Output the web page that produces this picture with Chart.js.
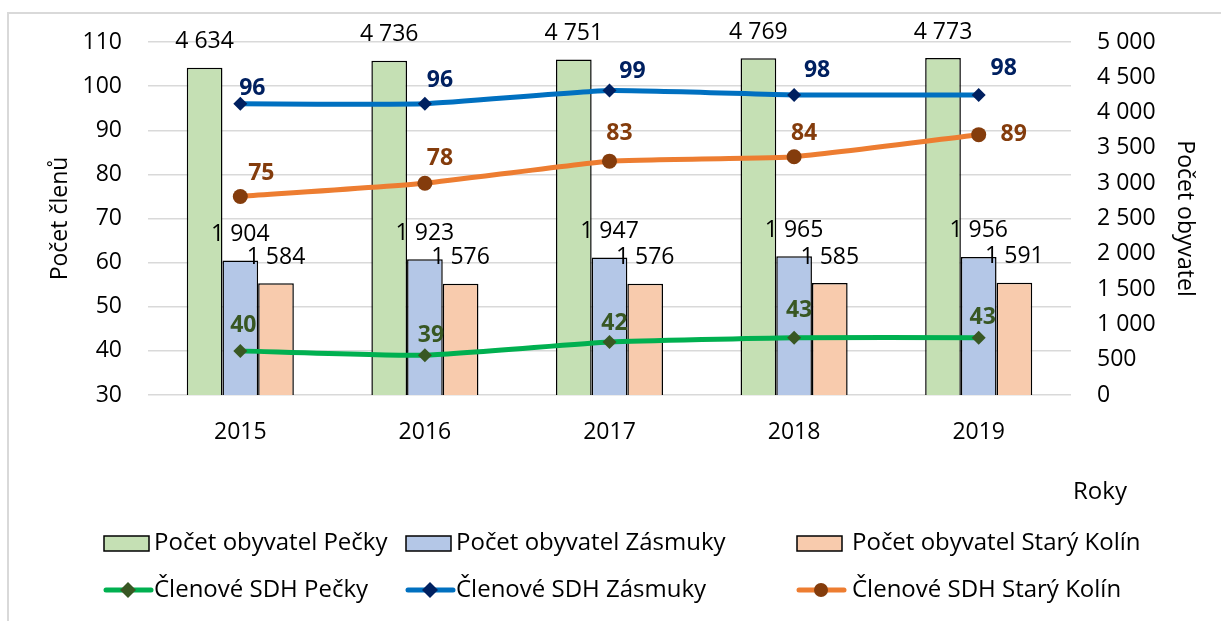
<!DOCTYPE html>
<html>
<head>
<meta charset="utf-8">
<script src="https://cdn.jsdelivr.net/npm/chart.js@4"></script>
<style>
  body { margin: 0; background: #fff; }
  #wrap { width: 1221px; height: 621px; position: relative; }
</style>
</head>
<body>
<div id="wrap"><canvas id="combo" width="1221" height="621"></canvas></div>
<script>
const years = ["2015", "2016", "2017", "2018", "2019"];
const obyvPecky = [4634, 4736, 4751, 4769, 4773];
const obyvZasmuky = [1904, 1923, 1947, 1965, 1956];
const obyvKolin = [1584, 1576, 1576, 1585, 1591];
const sdhPecky = [40, 39, 42, 43, 43];
const sdhZasmuky = [96, 96, 99, 98, 98];
const sdhKolin = [75, 78, 83, 84, 89];

const FONT = "'Open Sans', Lato, sans-serif";
const FS = 23;

function fmt(v) {
  return String(v).replace(/\B(?=(\d{3})+(?!\d))/g, " ");
}

/* labels on bars and points */
const valueLabels = {
  id: "valueLabels",
  afterDatasetsDraw(chart) {
    const ctx = chart.ctx;
    ctx.save();
    ctx.textAlign = "center";
    ctx.textBaseline = "middle";
    chart.data.datasets.forEach((ds, i) => {
      const meta = chart.getDatasetMeta(i);
      meta.data.forEach((el, j) => {
        const v = ds.data[j];
        if (ds.type === "bar") {
          ctx.font = FS + "px " + FONT;
          ctx.fillStyle = "#000";
          ctx.fillText(fmt(v), el.x, el.y - 26);
        } else {
          // labels were moved by hand in the original, keep their nudges
          const off = ds.labelOffsets[j];
          ctx.font = "bold " + FS + "px " + FONT;
          ctx.fillStyle = ds.labelColor;
          ctx.fillText(fmt(v), el.x + off[0], el.y + off[1]);
        }
      });
    });
    ctx.restore();
  }
};

/* frame, "Roky" and the 3-column legend */
const extras = {
  id: "extras",
  beforeDraw(chart) {
    const ctx = chart.ctx;
    ctx.save();
    ctx.strokeStyle = "#d9d9d9";
    ctx.lineWidth = 2;
    ctx.strokeRect(8, 13, 1400, 800);
    ctx.restore();
  },
  afterDraw(chart) {
    const ctx = chart.ctx;
    const ds = chart.data.datasets;
    ctx.save();
    ctx.font = "24px " + FONT;
    ctx.fillStyle = "#000";
    ctx.textBaseline = "middle";
    ctx.textAlign = "center";
    ctx.fillText("Roky", 1100, 492);
    ctx.textAlign = "left";

    const cols = [104, 406, 797];
    const rows = [543, 590];
    ds.forEach((d, i) => {
      const col = i % 3;
      const row = Math.floor(i / 3);
      const x = cols[col];
      const y = rows[row];
      if (d.type === "bar") {
        ctx.fillStyle = d.backgroundColor;
        ctx.fillRect(x, y - 7, 45, 15);
        ctx.strokeStyle = "#000";
        ctx.lineWidth = 1.5;
        ctx.strokeRect(x, y - 7, 45, 15);
      } else {
        ctx.strokeStyle = d.borderColor;
        ctx.lineWidth = 5;
        ctx.lineCap = "round";
        ctx.beginPath();
        ctx.moveTo(x + 2, y);
        ctx.lineTo(x + 47, y);
        ctx.stroke();
        ctx.fillStyle = d.pointBackgroundColor;
        ctx.beginPath();
        if (d.pointStyle === "circle") {
          ctx.arc(x + 24, y, 7, 0, Math.PI * 2);
        } else {
          ctx.moveTo(x + 24, y - 8);
          ctx.lineTo(x + 32, y);
          ctx.lineTo(x + 24, y + 8);
          ctx.lineTo(x + 16, y);
          ctx.closePath();
        }
        ctx.fill();
      }
      ctx.fillStyle = "#000";
      ctx.fillText(d.label, x + (col === 2 ? 55 : 50), y);
    });
    ctx.restore();
  }
};

const ctxCombo = document.getElementById("combo");
new Chart(ctxCombo, {
  data: {
    labels: years,
    datasets: [{
      type: "bar",
      label: "Počet obyvatel Pečky",
      data: obyvPecky,
      yAxisID: "y1",
      backgroundColor: "#c5e0b4",
      borderColor: "#000",
      borderWidth: 1.5,
      order: 2
    }, {
      type: "bar",
      label: "Počet obyvatel Zásmuky",
      data: obyvZasmuky,
      yAxisID: "y1",
      backgroundColor: "#b4c7e7",
      borderColor: "#000",
      borderWidth: 1.5,
      order: 2
    }, {
      type: "bar",
      label: "Počet obyvatel Starý Kolín",
      data: obyvKolin,
      yAxisID: "y1",
      backgroundColor: "#f8cbad",
      borderColor: "#000",
      borderWidth: 1.5,
      order: 2
    }, {
      type: "line",
      label: "Členové SDH Pečky",
      data: sdhPecky,
      yAxisID: "y",
      borderColor: "#00b050",
      borderWidth: 5,
      tension: 0.15,
      pointStyle: "rectRot",
      pointRadius: 7,
      pointBorderWidth: 0,
      pointBackgroundColor: "#385723",
      labelColor: "#385723",
      labelOffsets: [[3, -25], [6, -20], [5, -19], [5, -27], [4, -20]],
      order: 1
    }, {
      type: "line",
      label: "Členové SDH Zásmuky",
      data: sdhZasmuky,
      yAxisID: "y",
      borderColor: "#0070c0",
      borderWidth: 5,
      tension: 0.15,
      pointStyle: "rectRot",
      pointRadius: 7,
      pointBorderWidth: 0,
      pointBackgroundColor: "#002060",
      labelColor: "#002060",
      labelOffsets: [[12, -15], [15, -23], [23, -19], [23, -24], [25, -26]],
      order: 1
    }, {
      type: "line",
      label: "Členové SDH Starý Kolín",
      data: sdhKolin,
      yAxisID: "y",
      borderColor: "#ed7d31",
      borderWidth: 5,
      tension: 0.15,
      pointStyle: "circle",
      pointRadius: 7.5,
      pointBorderWidth: 0,
      pointBackgroundColor: "#843c0c",
      labelColor: "#843c0c",
      labelOffsets: [[21, -23], [15, -25], [10, -28], [10, -23], [35, 0]],
      order: 1
    }]
  },

  options: {
    responsive: false,
    animation: false,
    layout: {
      padding: { top: 42, bottom: 0, left: 0, right: 0 }
    },
    datasets: {
      bar: {
        barPercentage: 1,
        categoryPercentage: 0.58
      }
    },
    scales: {
      x: {
        grid: { display: false },
        border: { display: false },
        ticks: {
          padding: 16,
          color: "#000",
          font: { family: FONT, size: FS }
        },
        afterFit: function (scale) { scale.height = 226; }
      },
      y: {
        position: "left",
        min: 30,
        max: 110,
        ticks: {
          stepSize: 10,
          padding: 26,
          color: "#000",
          font: { family: FONT, size: FS }
        },
        grid: {
          color: "#d9d9d9",
          lineWidth: 1.5,
          drawTicks: false
        },
        border: { display: false },
        title: {
          display: true,
          text: "Počet členů",
          color: "#000",
          padding: { top: 47, bottom: 0 },
          font: { family: FONT, size: FS }
        },
        afterFit: function (scale) { scale.width = 148; }
      },
      y1: {
        position: "right",
        min: 0,
        max: 5000,
        ticks: {
          stepSize: 500,
          padding: 26,
          color: "#000",
          font: { family: FONT, size: FS },
          callback: function (value) { return fmt(value); }
        },
        grid: { display: false, drawTicks: false },
        border: { display: false },
        title: {
          display: true,
          text: "Počet obyvatel",
          color: "#000",
          padding: { top: 23, bottom: 0 },
          font: { family: FONT, size: FS }
        },
        afterFit: function (scale) { scale.width = 150; }
      }
    },
    plugins: {
      legend: { display: false },
      tooltip: { enabled: false }
    }
  },
  plugins: [valueLabels, extras]
});
</script>
</body>
</html>
